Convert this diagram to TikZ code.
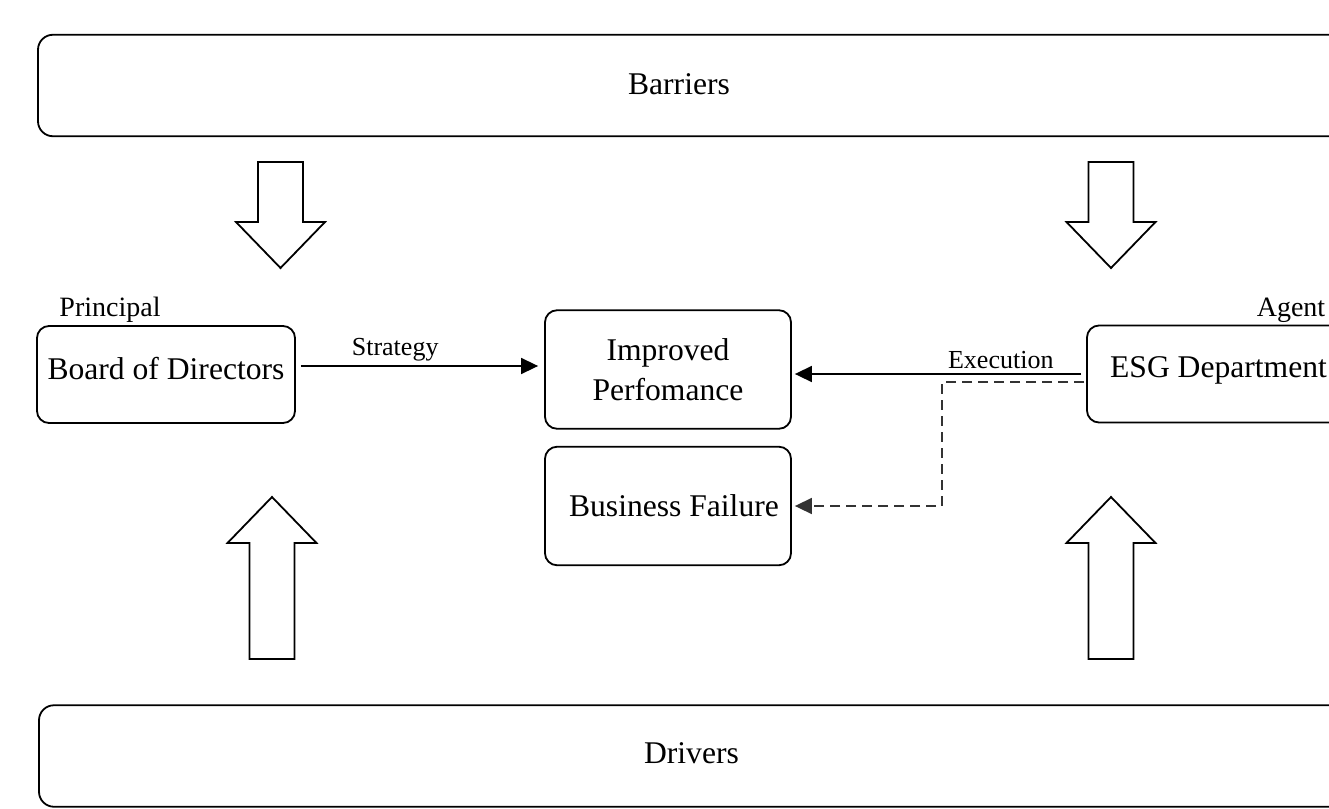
\documentclass[tikz,border=0pt]{standalone}
\usepackage{fontspec}
\setmainfont{Liberation Serif}
\usetikzlibrary{arrows.meta}
\tikzset{role box/.style={
    draw, rounded corners=6pt, line width=0.9pt, inner sep=0pt,
    text depth=6.5pt, font=\fontsize{15.8}{20}\selectfont,
    minimum height=48.5pt,
}}
\tikzset{outcome box/.style={
    draw, rounded corners=6pt, line width=0.9pt, inner sep=0pt,
    align=center, font=\fontsize{15.8}{20}\selectfont,
    minimum width=123pt, minimum height=59.25pt,
}}
\tikzset{band box/.style={
    draw, rounded corners=7.5pt, line width=0.9pt,
    minimum width=671pt, minimum height=50.75pt,
}}
\tikzset{band text/.style={font=\fontsize{15.8}{20}\selectfont, inner sep=0pt}}
\tikzset{tag text/.style={font=\fontsize{14}{16}\selectfont, inner sep=0pt}}
\tikzset{flow label/.style={font=\fontsize{13}{15}\selectfont, inner sep=2pt}}
\tikzset{flow/.style={line width=0.8pt, -{Triangle[length=8.5pt,width=8pt]}}}
\tikzset{block arrow/.style={draw, line width=0.9pt, fill=white, line join=miter}}

\begin{document}
\begin{tikzpicture}[x=0.5pt, y=-0.5pt]
\useasboundingbox (0,0) rectangle (1329,809);
\clip (0,0) rectangle (1329,809);

% bands at top and bottom
\node[name=barriers, band box] at (709,85.5) {};
\node[name=barrierstext, band text] at (679,84) {Barriers};
\node[name=drivers, band box] at (710,756) {};
\node[name=driverstext, band text] at (691.5,753) {Drivers};

% block arrows: down from the barriers, up from the drivers
\foreach \cx/\tipy/\dir/\len in
  {280.5/268/1/106, 1111/268/1/106, 272/497/-1/162, 1111/497/-1/162}
  \draw[block arrow, shift={(\cx,\tipy)}, yscale=\dir]
    (0,0) -- (-44.5,-46) -- (-22.5,-46) -- (-22.5,-\len)
    -- (22.5,-\len) -- (22.5,-46) -- (44.5,-46) -- cycle;

% principal and agent
\node[name=board, role box, minimum width=129pt] at (166,374.5) {Board of Directors};
\node[name=principal, tag text] at (110,310) {Principal};
\node[name=esg, role box, minimum width=131.5pt] at (1218.5,374) {ESG Department};
\node[name=agent, tag text] at (1291,310) {Agent};

% outcomes
\node[name=improved, outcome box] at (668,369.5) {Improved\\Perfomance};
\node[name=failure, outcome box] at (668,506) {\hspace*{6pt}Business Failure};

% connectors
\draw[flow, shorten <=2.5pt, shorten >=3pt]
  ([yshift=4.25pt]board.east) -- ([yshift=4.25pt]board.east -| improved.west)
  node[flow label, pos=0.4, above] {Strategy};
\draw[flow, shorten <=2.5pt, shorten >=1.5pt]
  (esg.west) -- (esg.west -| improved.east)
  node[flow label, pos=0.29, above] {Execution};
\draw[flow, black!80, dash pattern=on 5pt off 3pt, shorten <=1pt, shorten >=1.5pt]
  ([yshift=-4pt]esg.west) -- ++(-144,0) |- (failure.east);
\end{tikzpicture}
\end{document}
